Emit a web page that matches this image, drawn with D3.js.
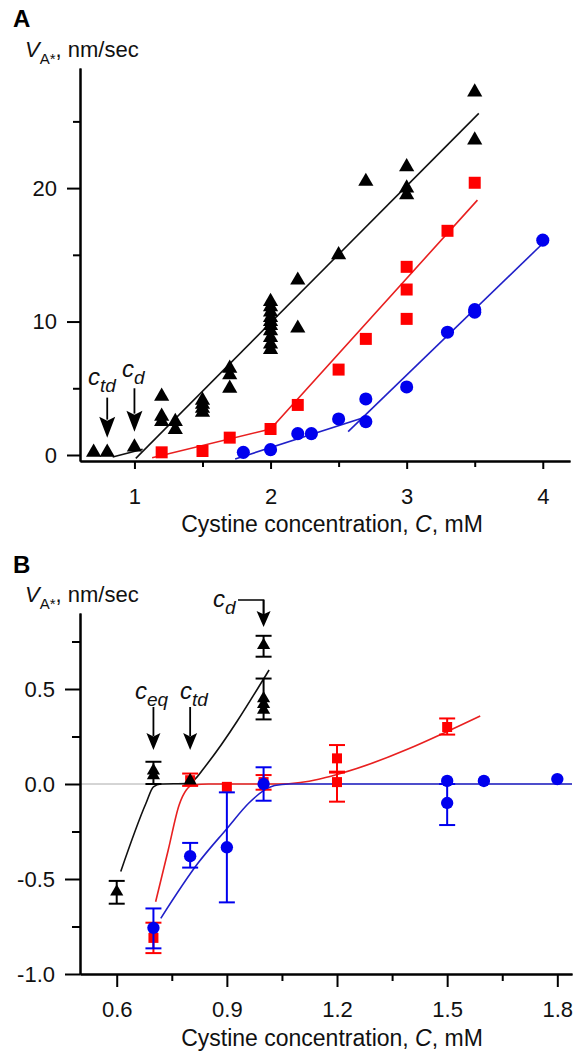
<!DOCTYPE html>
<html><head><meta charset="utf-8">
<script src="https://cdn.jsdelivr.net/npm/d3@7"></script>
<style>
body{margin:0;background:#fff}
svg{display:block;font-family:"Liberation Sans",Arial,sans-serif}
.axis path,.axis line{stroke:#000;stroke-width:2}
.axis text{font-size:22px;fill:#111;font-family:"Liberation Sans",Arial,sans-serif}
</style></head><body>
<svg id="fig" width="573" height="1055"></svg>
<script>
// ---- panel A : [C mM, V nm/sec]
var triA = [[0.7,0.2],[0.8,0.2],[1.0,0.6],
  [1.2,4.4],[1.2,2.9],[1.2,2.5],[1.3,2.5],[1.3,1.9],
  [1.5,4.1],[1.5,3.8],[1.5,3.5],[1.5,3.2],
  [1.7,6.5],[1.7,6.0],[1.7,5.0],
  [2.0,11.5],[2.0,11.1],[2.0,10.7],[2.0,10.3],[2.0,10.0],[2.0,9.7],[2.0,9.3],[2.0,8.8],[2.0,8.3],[2.0,7.9],
  [2.2,13.1],[2.2,9.5],[2.5,15.0],[2.7,20.5],
  [3.0,21.6],[3.0,20.0],[3.0,19.5],[3.5,27.2],[3.5,23.6]];
var sqA = [[1.2,0.2],[1.5,0.3],[1.7,1.3],[2.0,1.95],[2.2,3.75],[2.5,6.4],[2.7,8.7],
  [3.0,14.1],[3.0,12.4],[3.0,10.2],[3.3,16.8],[3.5,20.4]];
var dotA = [[1.8,0.2],[2.0,0.4],[2.2,1.6],[2.3,1.6],[2.5,2.7],[2.7,2.5],[2.7,4.2],
  [3.0,5.1],[3.3,9.2],[3.5,10.9],[3.5,10.7],[4.0,16.1]];
var fitA = {
  black: [[[0.84,-0.15],[1.06,0.43]], [[1.01,-0.25],[3.53,25.6]]],
  red:   [[[1.13,-0.2],[2.0,1.95],[3.52,19.1]]],
  blue:  [[[1.74,-0.3],[2.67,2.75]], [[2.57,1.75],[4.0,15.85]]]
};
var xTicksA = [1,2,3,4], xMinorA = [1.5,2.5,3.5];
var yTicksA = [0,10,20], yMinorA = [5,15,25];

// ---- panel B : [C, V, err low, err high]
var triB = [[0.6,-0.567,-0.63,-0.51],[0.7,0.07,0.0,0.117],[0.7,0.045,null,null],[0.8,0.018,null,null],
  [1.0,0.73,0.67,0.78],[1.0,0.45,0.34,0.555],[1.0,0.42,null,null],[1.0,0.39,null,null]];
var sqB = [[0.7,-0.81,-0.89,-0.73],[0.8,0.02,-0.01,0.055],[0.9,-0.015,null,null],[1.0,0.01,-0.03,0.047],
  [1.2,0.135,0.065,0.205],[1.2,0.01,-0.093,0.06],[1.5,0.30,0.26,0.345]];
var dotB = [[0.7,-0.757,-0.865,-0.655],[0.8,-0.38,-0.44,-0.31],[0.9,-0.333,-0.623,-0.044],[1.0,0.0,-0.088,0.088],
  [1.5,0.016,null,null],[1.5,-0.10,-0.216,0.0],[1.6,0.016,null,null],[1.8,0.026,null,null]];
var fitB = {
  black: [[0.611,-0.46],[0.68,-0.1],[0.70,-0.015],[0.72,0],[0.79,0.002],[0.81,0.02],[0.84,0.09],[1.015,0.6]],
  red: [[0.706,-0.62],[0.74,-0.35],[0.77,-0.11],[0.79,-0.03],[0.81,-0.004],[0.85,0],[1.04,0.0],[1.1,0.008],[1.15,0.025],[1.2,0.05],[1.59,0.358]],
  blue: [[0.72,-0.707],[0.82,-0.42],[0.9,-0.235],[0.96,-0.1],[1.0,-0.035],[1.03,-0.008],[1.07,0],[1.84,0]]
};
var xTicksB = [0.6,0.9,1.2,1.5,1.8], xMinorB = [0.75,1.05,1.35,1.65];
var yTicksB = [-1.0,-0.5,0.0,0.5], yMinorB = [-0.75,-0.25,0.25,0.75];

var col = {black:'#000', red:'#f00', blue:'#0000ee'};
var lineCol = {black:'#111', red:'#e82020', blue:'#2020c8'};

var svg = d3.select('#fig');
svg.append('rect').attr('width',573).attr('height',1055).attr('fill','#fff');

var xA = d3.scaleLinear().domain([0.6,4.2]).range([80,570]);
var yA = d3.scaleLinear().domain([-0.45,29.0]).range([461,68]);
var xB = d3.scaleLinear().domain([0.5,1.84]).range([80,572]);
var yB = d3.scaleLinear().domain([-1.0,0.9]).range([974,613]);

function axes(x, y, o) {
  var xb = y.range()[0], yl = x.range()[0];
  svg.append('g').attr('class','axis').attr('transform','translate(0,'+xb+')')
    .call(d3.axisBottom(x).tickValues(o.xMinor).tickSize(o.xMinorLen).tickFormat('').tickSizeOuter(0));
  svg.append('g').attr('class','axis').attr('transform','translate(0,'+xb+')')
    .call(d3.axisBottom(x).tickValues(o.xTicks).tickSize(o.xLen).tickPadding(o.xPad).tickSizeOuter(0).tickFormat(o.fmt));
  svg.append('g').attr('class','axis').attr('transform','translate('+yl+',0)')
    .call(d3.axisLeft(y).tickValues(o.yMinor).tickSize(o.yMinorLen).tickFormat('').tickSizeOuter(0));
  svg.append('g').attr('class','axis').attr('transform','translate('+yl+',0)')
    .call(d3.axisLeft(y).tickValues(o.yTicks).tickSize(o.yLen).tickPadding(10).tickSizeOuter(0).tickFormat(o.yfmt));
}

function vTitle(x, y) {
  var t = svg.append('text').attr('x',x).attr('y',y).style('font-size','22px').attr('fill','#111');
  t.append('tspan').style('font-style','italic').text('V');
  t.append('tspan').attr('dy',7).style('font-size','15px').text('A*');
  t.append('tspan').attr('dy',-7).text(', nm/sec');
}
function xTitle(x, y) {
  var t = svg.append('text').attr('x',x).attr('y',y).attr('text-anchor','middle')
    .style('font-size','23px').attr('fill','#111');
  t.append('tspan').text('Cystine concentration, ');
  t.append('tspan').style('font-style','italic').text('C');
  t.append('tspan').text(', mM');
}
function cLabel(x, y, sub) {
  var t = svg.append('text').attr('x',x).attr('y',y).style('font-style','italic').attr('fill','#111');
  t.append('tspan').style('font-size','24px').text('c');
  t.append('tspan').attr('dy',7).style('font-size','19px').text(sub);
}
function arrow(x, y0, y1, w, h) {
  svg.append('line').attr('x1',x).attr('x2',x).attr('y1',y0).attr('y2',y1-h+3)
    .attr('stroke','#000').attr('stroke-width',1.8);
  svg.append('path').attr('fill','#000')
    .attr('d','M'+x+','+y1+' L'+(x-w/2)+','+(y1-h)+' L'+x+','+(y1-h*0.8)+' L'+(x+w/2)+','+(y1-h)+' Z');
}
function marks(data, x, y, type, size, color) {
  svg.append('g').selectAll('path').data(data).enter().append('path')
    .attr('transform', function(d) { return 'translate('+x(d[0])+','+y(d[1])+')'; })
    .attr('d', d3.symbol().type(type).size(size))
    .attr('fill', color);
}
function errs(data, x, y, color) {
  var g = svg.append('g').attr('stroke',color).attr('stroke-width',2);
  data.filter(function(d){ return d[2] != null; }).forEach(function(d) {
    var cx = x(d[0]);
    g.append('line').attr('x1',cx).attr('x2',cx).attr('y1',y(d[2])).attr('y2',y(d[3]));
    [d[2],d[3]].forEach(function(v) {
      g.append('line').attr('x1',cx-8).attr('x2',cx+8).attr('y1',y(v)).attr('y2',y(v));
    });
  });
}

// ---------- Panel A
svg.append('text').attr('x',13).attr('y',27).style('font-size','24px').style('font-weight','bold').text('A');
vTitle(25, 57);
axes(xA, yA, {xTicks:xTicksA, xMinor:xMinorA, xLen:8, xMinorLen:6, xPad:19, fmt:d3.format('d'),
  yTicks:yTicksA, yMinor:yMinorA, yLen:13, yMinorLen:7, yfmt:d3.format('d')});
xTitle(332, 532);

var lineA = d3.line().x(function(d){ return xA(d[0]); }).y(function(d){ return yA(d[1]); });
['black','red','blue'].forEach(function(k) {
  fitA[k].forEach(function(seg) {
    svg.append('path').attr('d', lineA(seg)).attr('fill','none')
      .attr('stroke', lineCol[k]).attr('stroke-width',1.6);
  });
});
marks(sqA, xA, yA, d3.symbolSquare, 144, col.red);
marks(dotA, xA, yA, d3.symbolCircle, 135, col.blue);
marks(triA, xA, yA, d3.symbolTriangle, 100, col.black);

cLabel(88, 385, 'td');
arrow(xA(0.8), yA(4.3), yA(1.3), 16, 21);
cLabel(122, 377, 'd');
arrow(xA(1.0), yA(5.0), yA(1.75), 16, 21);

// ---------- Panel B
svg.append('text').attr('x',13).attr('y',573).style('font-size','24px').style('font-weight','bold').text('B');
vTitle(25, 602);
svg.append('line').attr('x1',xB(0.5)).attr('x2',xB(1.84)).attr('y1',yB(0)).attr('y2',yB(0))
  .attr('stroke','#aaa').attr('stroke-width',1);
axes(xB, yB, {xTicks:xTicksB, xMinor:xMinorB, xLen:13, xMinorLen:7, xPad:14, fmt:function(d){ return d.toFixed(1); },
  yTicks:yTicksB, yMinor:yMinorB, yLen:15, yMinorLen:8, yfmt:function(d){ return d.toFixed(1); }});
xTitle(332, 1046);

var lineB = d3.line().curve(d3.curveMonotoneX)
  .x(function(d){ return xB(d[0]); }).y(function(d){ return yB(d[1]); });
['black','red','blue'].forEach(function(k) {
  svg.append('path').attr('d', lineB(fitB[k])).attr('fill','none')
    .attr('stroke', lineCol[k]).attr('stroke-width',1.6);
});
errs(sqB, xB, yB, col.red);
marks(sqB, xB, yB, d3.symbolSquare, 100, col.red);
errs(dotB, xB, yB, col.blue);
marks(dotB, xB, yB, d3.symbolCircle, 120, col.blue);
errs(triB, xB, yB, col.black);
marks(triB, xB, yB, d3.symbolTriangle, 75, col.black);

cLabel(135, 699, 'eq');
arrow(xB(0.7), 707, 750, 14, 17);
cLabel(180, 699, 'td');
arrow(xB(0.8), 707, 750, 14, 17);
cLabel(213, 607, 'd');
svg.append('path').attr('d','M238,600 H'+xB(1.0)+' V615').attr('fill','none')
  .attr('stroke','#000').attr('stroke-width',1.6);
arrow(xB(1.0), 600, 627, 14, 16);
</script>
</body></html>
